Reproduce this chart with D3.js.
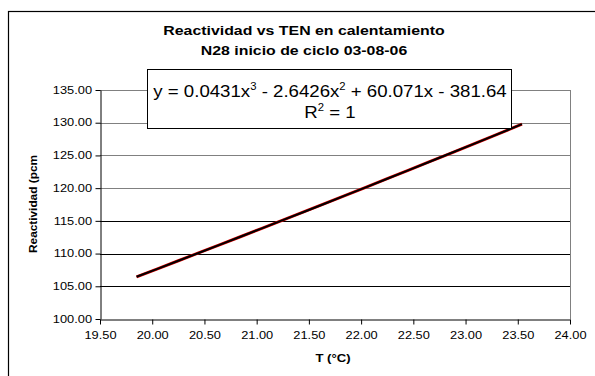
<!DOCTYPE html>
<html>
<head>
<meta charset="utf-8">
<script src="https://cdn.jsdelivr.net/npm/d3@7"></script>
<style>
  body { margin: 0; background: #fff; }
  svg { display: block; font-family: "Liberation Sans", Arial, sans-serif; }
</style>
</head>
<body>
<div class="canva"></div>
<script>
// data
const temps = [19.85, 20.05, 20.25, 20.45, 20.65, 20.85, 21.05, 21.25, 21.45, 21.65, 21.85, 22.05, 22.25, 22.45, 22.65, 22.85, 23.05, 23.25, 23.54];
const reacts = [106.45, 107.67, 108.9, 110.13, 111.37, 112.61, 113.86, 115.11, 116.36, 117.62, 118.89, 120.16, 121.44, 122.72, 124.0, 125.29, 126.58, 127.88, 129.78];
const yTicks = [100, 105, 110, 115, 120, 125, 130, 135];
const xTicks = [19.5, 20, 20.5, 21, 21.5, 22, 22.5, 23, 23.5, 24];

const width = 595, height = 376;
const svg = d3.select(".canva").append("svg")
    .attr("width", width)
    .attr("height", height);

// text in the original is drawn wider than normal
function stretch(sel, f) {
    sel.each(function() {
        const w = this.getComputedTextLength();
        d3.select(this).attr("textLength", w * f).attr("lengthAdjust", "spacingAndGlyphs");
    });
}

// outer chart border (only top/left visible)
svg.append("rect")
    .attr("x", 8.5).attr("y", 11.5)
    .attr("width", 620).attr("height", 400)
    .attr("fill", "none").attr("stroke", "#000").attr("stroke-width", 1.2);

const x = d3.scaleLinear().domain([19.5, 24]).range([100, 570]);
const y = d3.scaleLinear().domain([100, 135]).range([319, 90]);

// gridlines
svg.append("g").selectAll("line")
    .data(yTicks.slice(1))
    .enter().append("line")
    .attr("x1", 100).attr("x2", 570)
    .attr("y1", d => Math.round(y(d)) + 0.5)
    .attr("y2", d => Math.round(y(d)) + 0.5)
    .attr("stroke", d => d >= 120 ? "#808080" : "#000")
    .attr("stroke-width", 1);

// right edge of plot area
svg.append("line")
    .attr("x1", 570.5).attr("x2", 570.5)
    .attr("y1", 90).attr("y2", 319)
    .attr("stroke", "#808080");

const xAxis = svg.append("g")
    .attr("transform", "translate(0," + 319.5 + ")")
    .call(d3.axisBottom(x).tickValues(xTicks).tickFormat(d3.format(".2f")).tickSize(5).tickSizeOuter(0));
const yAxis = svg.append("g")
    .attr("transform", "translate(100.5,0)")
    .call(d3.axisLeft(y).tickValues(yTicks).tickFormat(d3.format(".2f")).tickSize(5).tickSizeOuter(0));

[xAxis, yAxis].forEach(a => {
    a.selectAll("text").attr("font-size", 10).attr("fill", "#000")
        .attr("font-family", "Liberation Sans, Arial, sans-serif");
    a.select(".domain").attr("stroke", "#000");
    stretch(a.selectAll("text"), 1.28);
});
xAxis.selectAll("text").attr("y", 19).attr("dy", 0);
yAxis.selectAll("text").attr("x", -8.5);

// data line
const line = d3.line().x(d => x(d[0])).y(d => y(d[1]));
const pts = temps.map((t, i) => [t, reacts[i]]);

svg.append("path")
    .attr("d", line(pts))
    .attr("fill", "none").attr("stroke", "#e00000").attr("stroke-width", 3);
svg.append("path")
    .attr("d", line(pts))
    .attr("fill", "none").attr("stroke", "#000").attr("stroke-width", 2);

// titles
const t1 = svg.append("text").attr("x", 304).attr("y", 35)
    .attr("text-anchor", "middle").attr("font-size", 12.5).attr("font-weight", "bold")
    .text("Reactividad vs TEN en calentamiento");
const t2 = svg.append("text").attr("x", 304).attr("y", 55)
    .attr("text-anchor", "middle").attr("font-size", 12.5).attr("font-weight", "bold")
    .text("N28 inicio de ciclo 03-08-06");
stretch(t1, 1.27);
stretch(t2, 1.27);

const xl = svg.append("text").attr("x", 333).attr("y", 362)
    .attr("text-anchor", "middle").attr("font-size", 10.5).attr("font-weight", "bold")
    .text("T (°C)");
stretch(xl, 1.25);
const yl = svg.append("text")
    .attr("transform", "translate(37,204) rotate(-90)")
    .attr("text-anchor", "middle").attr("font-size", 10).attr("font-weight", "bold")
    .text("Reactividad (pcm");
yl.attr("textLength", 98).attr("lengthAdjust", "spacingAndGlyphs");

// equation box
svg.append("rect")
    .attr("x", 147.5).attr("y", 69.5).attr("width", 364).attr("height", 59)
    .attr("fill", "#fff").attr("stroke", "#000");

const eqG = svg.append("g").attr("transform", "translate(330,0) scale(1.13,1)");
const eq = eqG.append("text").attr("x", 0).attr("y", 97)
    .attr("text-anchor", "middle").attr("font-size", 16.5);
eq.append("tspan").text("y = 0.0431x");
eq.append("tspan").attr("dy", -7).attr("font-size", 10).text("3");
eq.append("tspan").attr("dy", 7).text(" - 2.6426x");
eq.append("tspan").attr("dy", -7).attr("font-size", 10).text("2");
eq.append("tspan").attr("dy", 7).text(" + 60.071x - 381.64");

const r2 = eqG.append("text").attr("x", 0).attr("y", 118)
    .attr("text-anchor", "middle").attr("font-size", 16.5);
r2.append("tspan").text("R");
r2.append("tspan").attr("dy", -7).attr("font-size", 10).text("2");
r2.append("tspan").attr("dy", 7).text(" = 1");
</script>
</body>
</html>
